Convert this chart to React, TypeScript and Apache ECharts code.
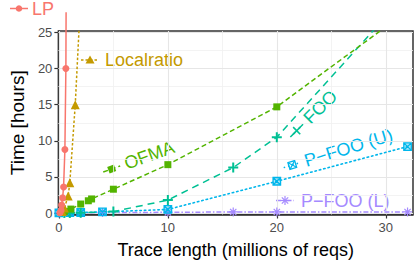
import React, { useEffect, useRef } from "react";
import * as echarts from "echarts";

// ---------- data ----------
const xTicks = [0, 10, 20, 30];
const yTicks = [0, 5, 10, 15, 20, 25];
const xMinorGrid = [5, 15, 25];
const yMinorGrid = [2.5, 7.5, 12.5, 17.5, 22.5];

const lpX = [0.1, 0.2, 0.25, 0.34, 0.43, 0.55, 0.64, 0.66];
const lpY = [0.05, 0.4, 1.1, 2.1, 3.6, 8.8, 20, 27.8];

const localX = [0.3, 0.5, 0.85, 1.0, 1.5, 2.0];
const localY = [0.2, 0.7, 2.35, 4.2, 15, 30];

const ofmaX = [0.5, 1.1, 2, 2.7, 3, 5, 10, 20, 32];
const ofmaY = [0.2, 0.55, 1.25, 1.7, 1.95, 3.3, 6.7, 14.7, 28];

const fooX = [0.5, 1, 2, 5, 10, 16, 20, 32];
const fooY = [0.01, 0.02, 0.05, 0.2, 1.8, 6.3, 10.5, 30.5];

const pfooUX = [0, 1, 2, 4, 10, 20, 32];
const pfooUY = [0.02, 0.05, 0.08, 0.15, 0.5, 4.4, 9.2];

const pfooLX = [0, 1, 2, 4, 10, 16, 20, 32];
const pfooLY = [0.02, 0.03, 0.05, 0.07, 0.1, 0.15, 0.15, 0.15];

// ---------- styles ----------
const C_LP = "#F8766D";
const C_LOCAL = "#C49A00";
const C_OFMA = "#53B400";
const C_FOO = "#00C094";
const C_PU = "#00B6EB";
const C_PL = "#A58AFF";
const FONT = "Liberation Sans, Arial, Helvetica, sans-serif";

const PLUS = "path://M4,0H6V4H10V6H6V10H4V6H0V4H4Z";
const SQX = "path://M0,0H10V10H0Z M0,0L10,10 M10,0L0,10";
const AST = "path://M5,0V10 M0,5H10 M1.5,1.5L8.5,8.5 M8.5,1.5L1.5,8.5";

const zip = (xs: number[], ys: number[]) => xs.map((x, i) => [x, ys[i]]);

function markerEls(kind: string, color: string): any[] {
  switch (kind) {
    case "circle":
      return [{ type: "circle", shape: { cx: 0, cy: 0, r: 3.3 }, style: { fill: color } }];
    case "triangle":
      return [{ type: "polygon", shape: { points: [[0, -4.5], [4.5, 3.5], [-4.5, 3.5]] }, style: { fill: color } }];
    case "square":
      return [{ type: "rect", shape: { x: -3.5, y: -3.5, width: 7, height: 7 }, style: { fill: color } }];
    case "plus":
      return [
        { type: "line", shape: { x1: -5, y1: 0, x2: 5, y2: 0 }, style: { stroke: color, lineWidth: 1.6 } },
        { type: "line", shape: { x1: 0, y1: -5, x2: 0, y2: 5 }, style: { stroke: color, lineWidth: 1.6 } },
      ];
    case "sqx":
      return [
        { type: "rect", shape: { x: -3.5, y: -3.5, width: 7, height: 7 }, style: { fill: "none", stroke: color, lineWidth: 1.3 } },
        { type: "line", shape: { x1: -3.5, y1: -3.5, x2: 3.5, y2: 3.5 }, style: { stroke: color, lineWidth: 1.2 } },
        { type: "line", shape: { x1: 3.5, y1: -3.5, x2: -3.5, y2: 3.5 }, style: { stroke: color, lineWidth: 1.2 } },
      ];
    case "ast":
      return [
        { type: "line", shape: { x1: -4.5, y1: 0, x2: 4.5, y2: 0 }, style: { stroke: color, lineWidth: 1.2 } },
        { type: "line", shape: { x1: 0, y1: -4.5, x2: 0, y2: 4.5 }, style: { stroke: color, lineWidth: 1.2 } },
        { type: "line", shape: { x1: -3.2, y1: -3.2, x2: 3.2, y2: 3.2 }, style: { stroke: color, lineWidth: 1.2 } },
        { type: "line", shape: { x1: 3.2, y1: -3.2, x2: -3.2, y2: 3.2 }, style: { stroke: color, lineWidth: 1.2 } },
      ];
  }
  return [];
}

function keyLabel(
  x: number, y: number, rotDeg: number, color: string, dash: any,
  kind: string, text: string, textOffset = 14
) {
  return {
    type: "group",
    x, y,
    rotation: (rotDeg * Math.PI) / 180,
    silent: true,
    children: [
      {
        type: "line",
        shape: { x1: -9, y1: 0, x2: 9, y2: 0 },
        style: { stroke: color, lineWidth: 1.5, lineDash: dash },
      },
      ...markerEls(kind, color),
      {
        type: "text",
        x: textOffset,
        y: 0,
        style: {
          text,
          fill: color,
          fontSize: 18,
          fontFamily: FONT,
          align: "left",
          verticalAlign: "middle",
        },
      },
    ],
  };
}

export default function App() {
  const ref = useRef<HTMLDivElement>(null);
  useEffect(() => {
    if (!ref.current) return;
    const chart = echarts.init(ref.current, undefined, { renderer: "svg" });
    const option: any = {
      animation: false,
      backgroundColor: "#fff",
      textStyle: { fontFamily: FONT },
      grid: {
        left: 49, top: 31, width: 364, height: 183.5,
        show: true, borderColor: "#333", borderWidth: 1.5, backgroundColor: "transparent",
      },
      xAxis: {
        type: "value", min: -0.05, max: 32.5,
        axisLine: { show: true, onZero: false, lineStyle: { color: "#333", width: 1.5 } },
        axisTick: { show: true, length: 4, lineStyle: { color: "#333", width: 1.2 }, customValues: xTicks },
        axisLabel: { customValues: xTicks, color: "#4d4d4d", fontSize: 13, margin: 6, fontFamily: FONT },
        splitLine: { show: false },
        name: "Trace length (millions of reqs)", nameLocation: "middle", nameGap: 26,
        nameTextStyle: { fontSize: 18, color: "#000", fontFamily: FONT },
      },
      yAxis: {
        type: "value", min: -0.2, max: 25.2,
        axisLine: { show: true, onZero: false, lineStyle: { color: "#333", width: 1.5 } },
        axisTick: { show: true, length: 4, lineStyle: { color: "#333", width: 1.2 }, customValues: yTicks },
        axisLabel: { customValues: yTicks, color: "#4d4d4d", fontSize: 13, margin: 6, fontFamily: FONT },
        splitLine: { show: false },
        name: "Time [hours]", nameLocation: "middle", nameGap: 29,
        nameTextStyle: { fontSize: 19, color: "#000", fontFamily: FONT },
      },
      series: [
        {
          type: "line", data: [], silent: true, z: 0,
          markLine: {
            silent: true, symbol: "none", z: 1, animation: false,
            label: { show: false },
            data: [
              ...xMinorGrid.map((v) => ({ xAxis: v, lineStyle: { color: "#f0f0f0", width: 0.8, type: "solid" } })),
              ...yMinorGrid.map((v) => ({ yAxis: v, lineStyle: { color: "#f0f0f0", width: 0.8, type: "solid" } })),
              ...xTicks.map((v) => ({ xAxis: v, lineStyle: { color: "#e6e6e6", width: 1.1, type: "solid" } })),
              ...yTicks.map((v) => ({ yAxis: v, lineStyle: { color: "#e6e6e6", width: 1.1, type: "solid" } })),
            ],
          },
        },
        {
          name: "P-FOO (L)", type: "line", data: zip(pfooLX, pfooLY),
          symbol: AST, symbolSize: 9, showAllSymbol: true,
          itemStyle: { color: "rgba(0,0,0,0)", borderColor: C_PL, borderWidth: 1.2 },
          lineStyle: { color: C_PL, width: 1.5, type: [5, 2, 1.5, 2] },
        },
        {
          name: "P-FOO (U)", type: "line", data: zip(pfooUX, pfooUY),
          symbol: SQX, symbolSize: 7.5, showAllSymbol: true,
          itemStyle: { color: "rgba(0,182,235,0.35)", borderColor: C_PU, borderWidth: 1.3 },
          lineStyle: { color: C_PU, width: 1.6, type: [1.5, 3], cap: "round" },
        },
        {
          name: "FOO", type: "line", data: zip(fooX, fooY),
          symbol: PLUS, symbolSize: 10, showAllSymbol: true,
          itemStyle: { color: C_FOO },
          lineStyle: { color: C_FOO, width: 1.5, type: [7, 5] },
        },
        {
          name: "OFMA", type: "line", data: zip(ofmaX, ofmaY),
          symbol: "rect", symbolSize: 7, showAllSymbol: true,
          itemStyle: { color: C_OFMA },
          lineStyle: { color: C_OFMA, width: 1.5, type: [5, 3] },
        },
        {
          name: "Localratio", type: "line", data: zip(localX, localY),
          symbol: "triangle", symbolSize: 9, showAllSymbol: true,
          itemStyle: { color: C_LOCAL },
          lineStyle: { color: C_LOCAL, width: 1.5, type: [2.5, 2] },
        },
        {
          name: "LP", type: "line",
          data: zip(lpX, lpY).map((p, i, arr) =>
            i === arr.length - 1 ? { value: p, symbol: "none" } : p),
          symbol: "circle", symbolSize: 7, showAllSymbol: true, clip: false,
          itemStyle: { color: C_LP },
          lineStyle: { color: C_LP, width: 1.5 },
        },
      ],
      graphic: [
        keyLabel(19, 8.5, 0, C_LP, null, "circle", "LP", 13),
        keyLabel(90, 60, 0, C_LOCAL, [2.5, 2], "triangle", "Localratio", 15),
        keyLabel(111.7, 169, 20, C_OFMA, [5, 3], "square", "OFMA", 14),
        keyLabel(296.7, 130.7, 45, C_FOO, [7, 5], "plus", "FOO", 14),
        keyLabel(292.3, 165, 17, C_PU, [1.5, 3], "sqx", "P\u2212FOO (U)", 13),
        keyLabel(285, 200.5, 0, C_PL, [5, 2, 1.5, 2], "ast", "P\u2212FOO (L)", 16),
      ],
    };
    chart.setOption(option);
    return () => chart.dispose();
  }, []);
  return (
    <div
      ref={ref}
      style={{ position: "fixed", left: 0, top: 0, width: 415, height: 264 }}
    />
  );
}
